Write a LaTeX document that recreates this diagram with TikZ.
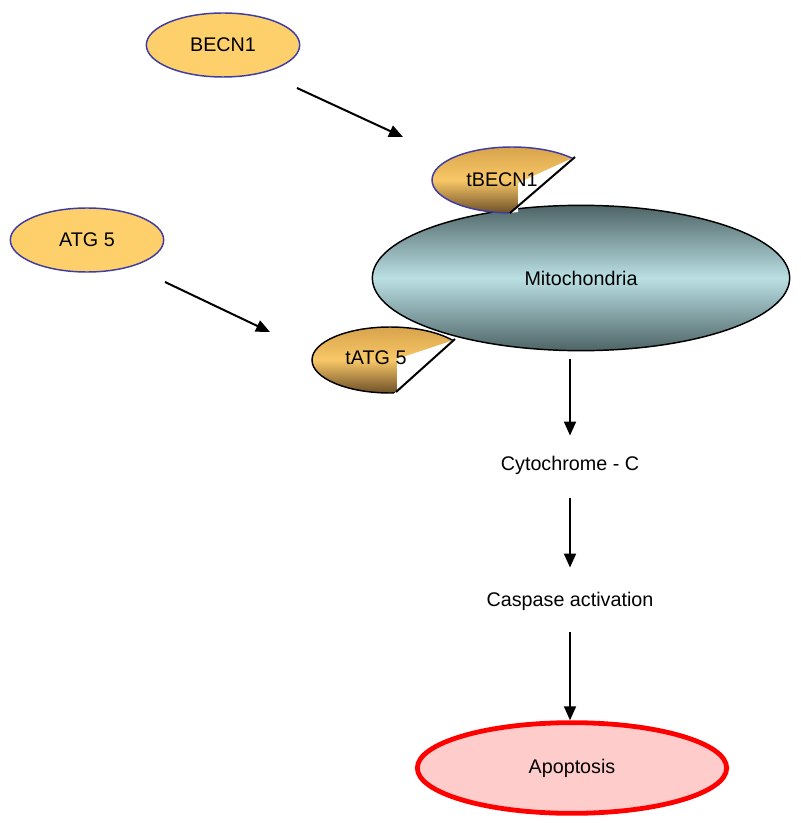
\documentclass[tikz,border=0pt]{standalone}
\usepackage{fontspec}
\setmainfont{Liberation Sans}
\usetikzlibrary{shapes.geometric, arrows.meta, positioning}

\definecolor{protfill}{HTML}{FDD06C}
\definecolor{protline}{HTML}{3F3CA3}
\definecolor{goldtop}{HTML}{D8A44C}
\definecolor{goldmid}{HTML}{F8C767}
\definecolor{goldbot}{HTML}{6E5028}
\definecolor{mitodark}{HTML}{4E6466}
\definecolor{mitolight}{HTML}{BAE0E4}
\definecolor{apofill}{HTML}{FFCCCC}

\begin{document}
\begin{tikzpicture}[
        x=0.75pt, y=-0.75pt,
        font=\fontsize{14.8}{17}\selectfont,
        protein/.style={ellipse, draw=protline, line width=1.1pt, fill=protfill, minimum width=115pt, minimum height=48pt, inner sep=0pt},
        mito/.style={ellipse, draw=black, line width=1.1pt, top color=mitodark, bottom color=mitodark, middle color=mitolight, minimum width=313pt, minimum height=109pt, inner sep=0pt},
        apop/.style={ellipse, draw=red, line width=3.6pt, fill=apofill, minimum width=232pt, minimum height=68pt, inner sep=0pt},
        label/.style={inner sep=0pt},
        gold/.style={top color=goldtop, bottom color=goldbot, middle color=goldmid},
        arrow/.style={-{Triangle[length=10.5pt, width=9pt]}, line width=1.5pt}
    ]
        \useasboundingbox (0,0) rectangle (800,823);

        % Free proteins
        \node[protein] (becn) at (223,45) {BECN1};
        \node[protein] (atg) at (87,240) {ATG 5};

        % Mitochondria
        \node[mito] (mito) at (581,278) {Mitochondria};

        % Truncated tBECN1
        \begin{scope}
            \clip (640,101) -- (445,269) -- (400,269) -- (400,101) -- cycle;
            \shade[gold] (512,180) ellipse [x radius=80, y radius=33];
            \draw[protline, line width=1.1pt] (512,180) ellipse [x radius=80, y radius=33];
        \end{scope}
        \fill[white] (575,157) -- (518,183) -- (518,212) -- (510,213) -- cycle;
        \draw[line width=1.5pt] (575,157) -- (510,213);
        \node[label] (tbecn) at (502,180) {tBECN1};

        % Truncated tATG 5
        \begin{scope}
            \clip (519,283) -- (332,448) -- (290,448) -- (290,283) -- cycle;
            \shade[gold] (390,360) ellipse [x radius=78, y radius=33];
            \draw[line width=1.1pt] (390,360) ellipse [x radius=78, y radius=33];
        \end{scope}
        \fill[white] (454,340) -- (397,359) -- (397,391) -- cycle;
        \draw[line width=1.5pt] (455,339) -- (396,392);
        \node[label] (tatg) at (376,358) {tATG 5};

        % Pathway below
        \node[label] (cyto) at (570,465) {Cytochrome - C};
        \node[label] (casp) at (570,601) {Caspase activation};
        \node[apop] (apo) at (572,768) {Apoptosis};

        % Arrow ends
        \coordinate (becn-out) at (297,88);
        \coordinate (tbecn-in) at (403,137);
        \coordinate (atg-out) at (165,282);
        \coordinate (tatg-in) at (270,332);

        % Connections
        \draw[arrow] (becn-out) -- (tbecn-in);
        \draw[arrow] (atg-out) -- (tatg-in);
        \draw[arrow, shorten <=8pt*0.75, shorten >=20pt*0.75] (mito.south -| cyto) -- (cyto);
        \draw[arrow, shorten <=24pt*0.75, shorten >=24pt*0.75] (cyto) -- (casp);
        \draw[arrow, shorten <=22pt*0.75] (casp) -- (apo.north -| casp);

    \end{tikzpicture}
\end{document}
